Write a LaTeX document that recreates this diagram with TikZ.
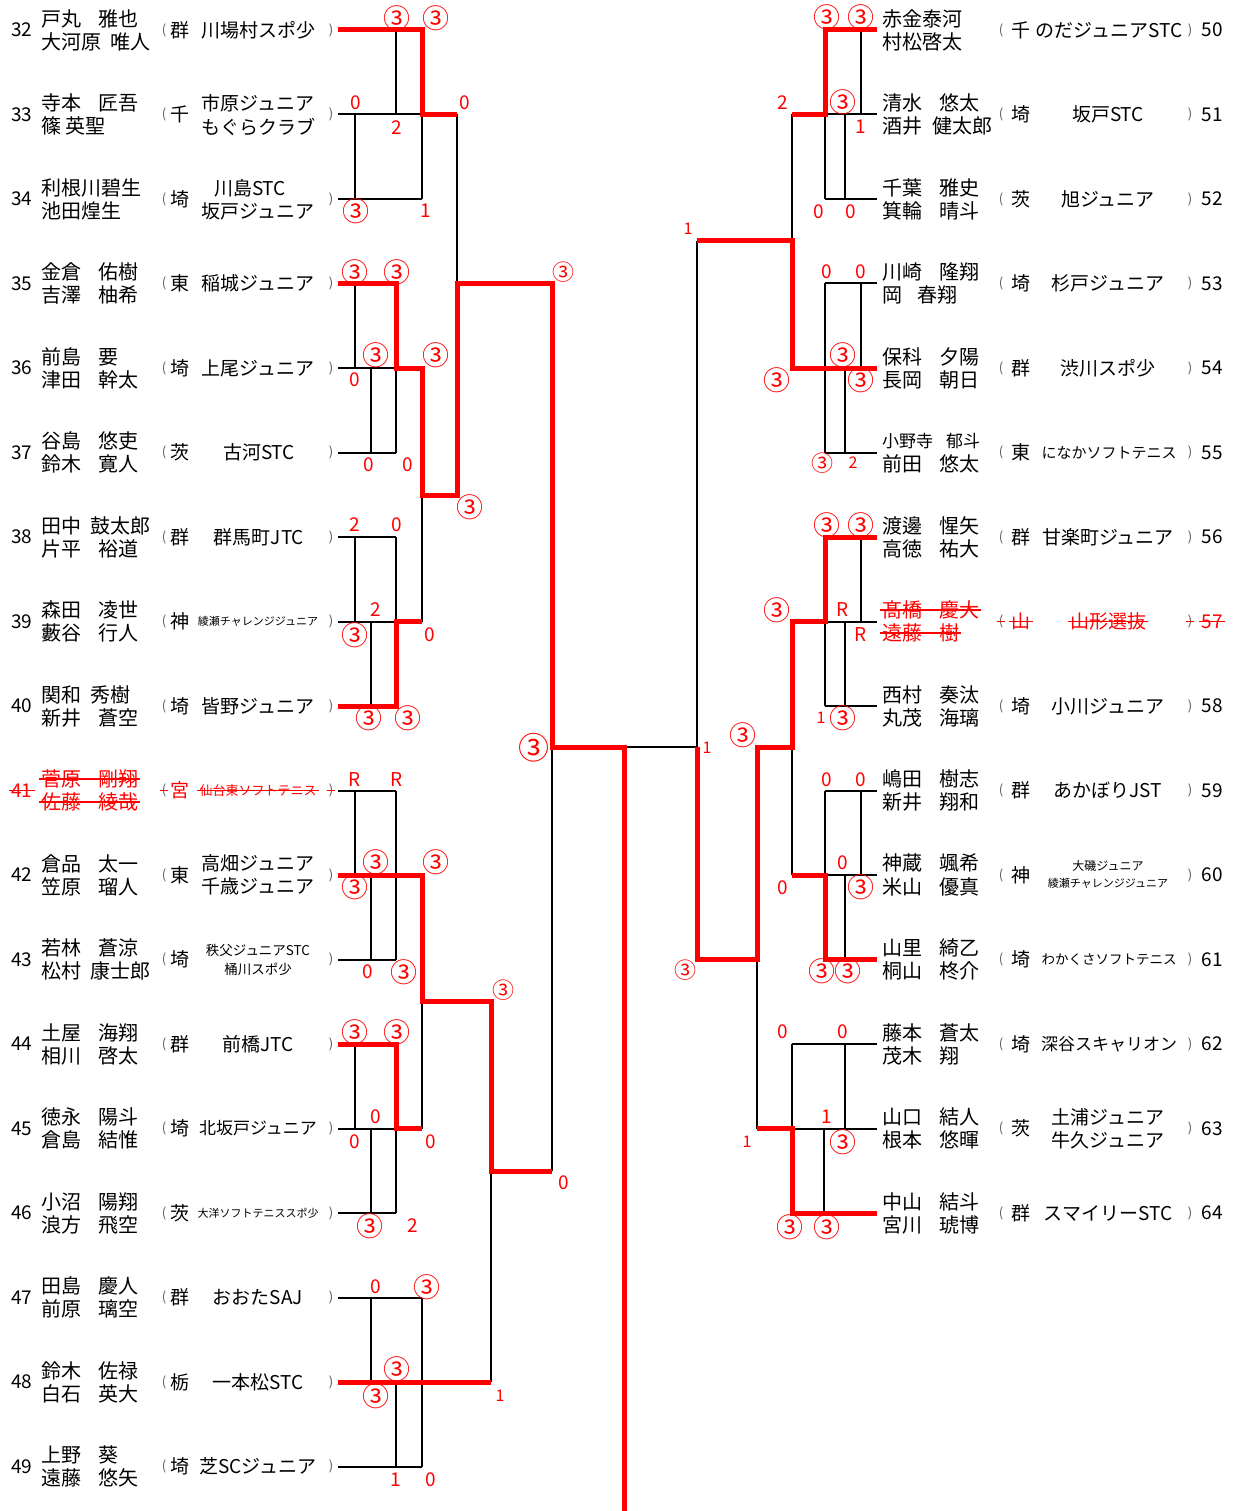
\documentclass[tikz,border=0pt]{standalone}
\usepackage{fontspec}
\setmainfont{Noto Sans CJK JP}
\newcommand\nmgap{\hspace{17pt}}
\newcommand\ct{{\fontsize{27}{27}\selectfont ③}}
\newcommand\cts{{\fontsize{22}{22}\selectfont ③}}
\newcommand\rowL[5]{%
 \node[numst] (n#1) at (22,#2) {#1};
 \node[nmst] (a#1) at (41,{#2-11.5}) {#3};
 \node[nmst] (b#1) at (41,{#2+11.5}) {#4};
 \node[parst] (o#1) at (164,#2) {(};
 \node[prefst] (p#1) at (180,#2) {#5};
 \node[parst] (c#1) at (331,#2) {)};
 \coordinate (L#1) at (338,#2);
}
\newcommand\rowR[5]{%
 \node[nmst] (a#1) at (882,{#2-11.5}) {#3};
 \node[nmst] (b#1) at (882,{#2+11.5}) {#4};
 \node[parst] (o#1) at (1001,#2) {(};
 \node[prefst] (p#1) at (1021,#2) {#5};
 \node[parst] (c#1) at (1190,#2) {)};
 \node[numst] (n#1) at (1212,#2) {#1};
 \coordinate (R#1) at (877,#2);
}
\begin{document}
\begin{tikzpicture}[x=1pt,y=-1pt,
 bk/.style={line width=2pt, draw=black},
 rd/.style={line width=5pt, draw=red, line join=miter},
 numst/.style={inner sep=0, font=\fontsize{19}{19}\selectfont},
 nmst/.style={inner sep=0, anchor=west, font=\fontsize{20}{20}\selectfont},
 parst/.style={inner sep=0, font=\fontsize{13}{13}\selectfont, text=black!65},
 prefst/.style={inner sep=0, font=\fontsize{19}{19}\selectfont},
 clubst/.style={inner sep=0, font=\fontsize{19}{19}\selectfont},
 clubm/.style={inner sep=0, font=\fontsize{17}{17}\selectfont},
 clubt/.style={inner sep=0, font=\fontsize{13.5}{13.5}\selectfont},
 clubs/.style={inner sep=0, font=\fontsize{11}{11}\selectfont},
 sc/.style={inner sep=0, text=red, font=\fontsize{19}{19}\selectfont},
 scs/.style={inner sep=0, text=red, font=\fontsize{16}{16}\selectfont},
 scb/.style={inner sep=0, text=red, font=\fontsize{31}{31}\selectfont},
 strk/.style={draw=red, line width=1.3pt}
]
\useasboundingbox[fill=white] (0,0) rectangle (1236,1511);

% ---------- left rows ----------
\rowL{32}{30}{戸丸\nmgap 雅也}{大河原\hspace{9pt}唯人}{群}
\rowL{33}{114.5}{寺本\nmgap 匠吾}{篠\hspace{4pt}英聖}{千}
\rowL{34}{199}{利根川碧生}{池田煌生}{埼}
\rowL{35}{283.5}{金倉\nmgap 佑樹}{吉澤\nmgap 柚希}{東}
\rowL{36}{368}{前島\nmgap 要}{津田\nmgap 幹太}{埼}
\rowL{37}{452.5}{谷島\nmgap 悠吏}{鈴木\nmgap 寛人}{茨}
\rowL{38}{537}{田中\hspace{9pt}鼓太郎}{片平\nmgap 裕道}{群}
\rowL{39}{621.5}{森田\nmgap 凌世}{藪谷\nmgap 行人}{神}
\rowL{40}{706}{関和\hspace{9pt}秀樹}{新井\nmgap 蒼空}{埼}
\begin{scope}[every node/.append style={text=red}]
\rowL{41}{790.5}{菅原\nmgap 剛翔}{佐藤\nmgap 綾哉}{宮}
\end{scope}
\rowL{42}{875}{倉品\nmgap 太一}{笠原\nmgap 瑠人}{東}
\rowL{43}{959.5}{若林\nmgap 蒼涼}{松村\hspace{9pt}康士郎}{埼}
\rowL{44}{1044}{土屋\nmgap 海翔}{相川\nmgap 啓太}{群}
\rowL{45}{1128.5}{徳永\nmgap 陽斗}{倉島\nmgap 結惟}{埼}
\rowL{46}{1213}{小沼\nmgap 陽翔}{浪方\nmgap 飛空}{茨}
\rowL{47}{1297.5}{田島\nmgap 慶人}{前原\nmgap 璃空}{群}
\rowL{48}{1382}{鈴木\nmgap 佐禄}{白石\nmgap 英大}{栃}
\rowL{49}{1466.5}{上野\nmgap 葵}{遠藤\nmgap 悠矢}{埼}

% left clubs
\node[clubst] (k32) at (258,30) {川場村スポ少};
\node[clubst] (k33a) at (258,103.5) {市原ジュニア};
\node[clubst] (k33b) at (258,126.5) {もぐらクラブ};
\node[clubst] (k34a) at (250,188) {川島STC};
\node[clubst] (k34b) at (258,211) {坂戸ジュニア};
\node[clubst] (k35) at (258,283.5) {稲城ジュニア};
\node[clubst] (k36) at (258,368) {上尾ジュニア};
\node[clubst] (k37) at (259,452.5) {古河STC};
\node[clubst] (k38) at (259,537) {群馬町JTC};
\node[clubs] (k39) at (258,621.5) {綾瀬チャレンジジュニア};
\node[clubst] (k40) at (258,706) {皆野ジュニア};
\node[clubs,text=red,font=\fontsize{13}{13}\selectfont] (k41) at (258,790.5) {仙台東ソフトテニス};
\node[clubst] (k42a) at (258,863) {高畑ジュニア};
\node[clubst] (k42b) at (258,886) {千歳ジュニア};
\node[clubt] (k43a) at (258,950) {秩父ジュニアSTC};
\node[clubt] (k43b) at (258,969) {桶川スポ少};
\node[clubst] (k44) at (258,1044) {前橋JTC};
\node[clubm] (k45) at (258,1128.5) {北坂戸ジュニア};
\node[clubs] (k46) at (258,1213) {大洋ソフトテニススポ少};
\node[clubst] (k47) at (258,1297.5) {おおたSAJ};
\node[clubst] (k48) at (258,1382) {一本松STC};
\node[clubst] (k49) at (258,1466.5) {芝SCジュニア};

% ---------- right rows ----------
\rowR{50}{30}{赤金泰河}{村松啓太}{千}
\rowR{51}{114.5}{清水\nmgap 悠太}{酒井\hspace{10pt}健太郎}{埼}
\rowR{52}{199}{千葉\nmgap 雅史}{箕輪\nmgap 晴斗}{茨}
\rowR{53}{283.5}{川崎\nmgap 隆翔}{岡\hspace{15pt}春翔}{埼}
\rowR{54}{368}{保科\nmgap 夕陽}{長岡\nmgap 朝日}{群}
\rowR{55}{452.5}{{\fontsize{17}{17}\selectfont 小野寺\hspace{13pt}郁斗}}{前田\nmgap 悠太}{東}
\rowR{56}{537}{渡邊\nmgap 惺矢}{高徳\nmgap 祐大}{群}
\begin{scope}[every node/.append style={text=red}]
\rowR{57}{621.5}{髙橋\nmgap 慶大}{遠藤\nmgap 樹}{山}
\end{scope}
\rowR{58}{706}{西村\nmgap 奏汰}{丸茂\nmgap 海璃}{埼}
\rowR{59}{790.5}{嶋田\nmgap 樹志}{新井\nmgap 翔和}{群}
\rowR{60}{875}{神蔵\nmgap 颯希}{米山\nmgap 優真}{神}
\rowR{61}{959.5}{山里\nmgap 綺乙}{桐山\nmgap 柊介}{埼}
\rowR{62}{1044}{藤本\nmgap 蒼太}{茂木\nmgap 翔}{埼}
\rowR{63}{1128.5}{山口\nmgap 結人}{根本\nmgap 悠暉}{茨}
\rowR{64}{1213}{中山\nmgap 結斗}{宮川\nmgap 琥博}{群}

% right clubs
\node[clubst] (k50) at (1109,30) {のだジュニアSTC};
\node[clubst] (k51) at (1108,114.5) {坂戸STC};
\node[clubst] (k52) at (1108,199) {旭ジュニア};
\node[clubst] (k53) at (1108,283.5) {杉戸ジュニア};
\node[clubst] (k54) at (1108,368) {渋川スポ少};
\node[clubs,font=\fontsize{15}{15}\selectfont] (k55) at (1109,452.5) {になかソフトテニス};
\node[clubst] (k56) at (1108,537) {甘楽町ジュニア};
\node[clubst,text=red] (k57) at (1108,621.5) {山形選抜};
\node[clubst] (k58) at (1108,706) {小川ジュニア};
\node[clubst] (k59) at (1108,790.5) {あかぼりJST};
\node[clubs,font=\fontsize{12}{12}\selectfont] (k60a) at (1108,866) {大磯ジュニア};
\node[clubs] (k60b) at (1108,883) {綾瀬チャレンジジュニア};
\node[clubt] (k61) at (1109,959.5) {わかくさソフトテニス};
\node[clubm] (k62) at (1109,1044) {深谷スキャリオン};
\node[clubst] (k63a) at (1108,1117) {土浦ジュニア};
\node[clubst] (k63b) at (1108,1140) {牛久ジュニア};
\node[clubst] (k64) at (1108,1213) {スマイリーSTC};

% ---------- strike-throughs ----------
\foreach \nd in {n41,a41,b41,o41,k41,c41,a57,b57,o57,p57,k57,c57,n57}
  \draw[strk] ([xshift=-2pt]\nd.west) -- ([xshift=2pt]\nd.east);

% ---------- black bracket lines ----------
\draw[bk] (L33) -- (422,114.5)  (L34) -- (422,199)  (396,30) -- (396,114.5)
  (355,114.5) -- (355,199)  (422,114.5) -- (422,199)  (457,114.5) -- (457,283.5);
\draw[bk] (355,283.5) -- (355,368)  (L36) -- (396,368)  (371,368) -- (371,452.5)
  (396,368) -- (396,452.5)  (L37) -- (396,452.5);
\draw[bk] (L38) -- (396,537)  (355,537) -- (355,621.5)  (396,537) -- (396,621.5)
  (L39) -- (396,621.5)  (371,621.5) -- (371,706)  (422,495) -- (422,621.5);
\draw[bk] (L41) -- (396,790.5)  (355,790.5) -- (355,875)  (396,790.5) -- (396,959.5)
  (371,875) -- (371,959.5)  (L43) -- (396,959.5)  (422,1001) -- (422,1128.5)
  (552,747) -- (552,1171)  (491,1171) -- (491,1382);
\draw[bk] (355,1044) -- (355,1128.5)  (L45) -- (396,1128.5)  (371,1128.5) -- (371,1213)
  (396,1128.5) -- (396,1213)  (L46) -- (396,1213);
\draw[bk] (L47) -- (422,1297.5)  (371,1297.5) -- (371,1382)  (422,1297.5) -- (422,1466.5)
  (396,1382) -- (396,1466.5)  (L49) -- (422,1466.5);
\draw[bk] (624,747) -- (697,747)  (697,241) -- (697,747);
\draw[bk] (861,30) -- (861,114.5)  (R51) -- (825,114.5)  (825,114.5) -- (825,199)
  (845,114.5) -- (845,199)  (R52) -- (825,199)  (792,114.5) -- (792,241);
\draw[bk] (R53) -- (825,283.5)  (825,283.5) -- (825,452.5)  (861,283.5) -- (861,368)
  (845,368) -- (845,452.5)  (R55) -- (825,452.5);
\draw[bk] (861,537) -- (861,621.5)  (R57) -- (825,621.5)  (825,621.5) -- (825,706)
  (845,621.5) -- (845,706)  (R58) -- (825,706);
\draw[bk] (R59) -- (825,790.5)  (825,790.5) -- (825,875)  (861,790.5) -- (861,875)
  (R60) -- (825,875)  (845,875) -- (845,959.5)  (792,747) -- (792,875);
\draw[bk] (R62) -- (792,1044)  (792,1044) -- (792,1128.5)  (845,1044) -- (845,1128.5)
  (R63) -- (792,1128.5)  (824,1128.5) -- (824,1213)  (757,959.5) -- (757,1128.5);

% ---------- red winner paths ----------
\draw[rd] (L32) -- (422,30) -- (422,114.5) -- (457,114.5);
\draw[rd] (L35) -- (396,283.5) -- (396,368) -- (422,368) -- (422,495) -- (457,495)
  -- (457,283.5) -- (552,283.5) -- (552,747) -- (624,747) -- (624,1511);
\draw[rd] (L40) -- (396,706) -- (396,621.5) -- (422,621.5);
\draw[rd] (L42) -- (422,875) -- (422,1001) -- (491,1001) -- (491,1171) -- (552,1171);
\draw[rd] (L44) -- (396,1044) -- (396,1128.5) -- (422,1128.5);
\draw[rd] (L48) -- (491,1382);
\draw[rd] (R50) -- (825,30) -- (825,114.5) -- (792,114.5);
\draw[rd] (R54) -- (792,368) -- (792,241) -- (697,241);
\draw[rd] (R56) -- (825,537) -- (825,621.5) -- (792,621.5) -- (792,747) -- (757,747)
  -- (757,959.5) -- (697,959.5) -- (697,747);
\draw[rd] (R61) -- (825,959.5) -- (825,875) -- (792,875);
\draw[rd] (R64) -- (792,1213) -- (792,1128.5) -- (757,1128.5);

% ---------- scores ----------
\foreach \px/\py/\t [count=\i] in {
 397/18/\ct, 436/18/\ct, 356/103/0, 397/128/2, 465/103/0, 356/211/\ct, 426/211/1,
 355/272/\ct, 397/272/\ct, 376/355/\ct, 436/355/\ct, 355/380/0, 369/465/0, 408/465/0, 470/507/\ct,
 355/525/2, 397/525/0, 376/610/2, 355/635/\ct, 430/635/0, 369/718/\ct, 408/718/\ct,
 355/780/R, 397/780/R, 376/862/\ct, 436/862/\ct, 355/887/\ct, 368/972/0, 404/972/\ct,
 355/1032/\ct, 397/1032/\ct, 376/1117/0, 355/1142/0, 431/1142/0, 564/1183/0, 370/1226/\ct, 413/1226/2,
 376/1287/0, 427/1287/\ct, 397/1369/\ct, 376/1396/\ct, 396/1480/1, 431/1480/0,
 827/17/\ct, 861/17/\ct, 783/103/2, 843/102/\ct, 861/127/1, 819/212/0, 851/212/0,
 827/272/0, 861/272/0, 843/355/\ct, 777/380/\ct, 861/380/\ct,
 827/525/\ct, 861/525/\ct, 777/610/\ct, 843/610/R, 861/635/R, 843/718/\ct, 743/735/\ct,
 827/780/0, 861/780/0, 843/863/0, 783/888/0, 861/887/\ct, 822/971/\ct, 848/971/\ct,
 783/1032/0, 843/1032/0, 827/1117/1, 843/1142/\ct, 790/1227/\ct, 827/1227/\ct}
 \node[sc] (s\i) at (\px,\py) {\t};
\foreach \px/\py/\t [count=\i] in {
 563/272/\cts, 503/990/\cts, 685/970/\cts, 688/229/1, 822/463/\cts, 853/463/2, 821/718/1,
 707/748/1, 500/1396/1, 747/1142/1}
 \node[scs] (ss\i) at (\px,\py) {\t};
\node[scb] (sb1) at (534,748) {③};
\end{tikzpicture}
\end{document}
